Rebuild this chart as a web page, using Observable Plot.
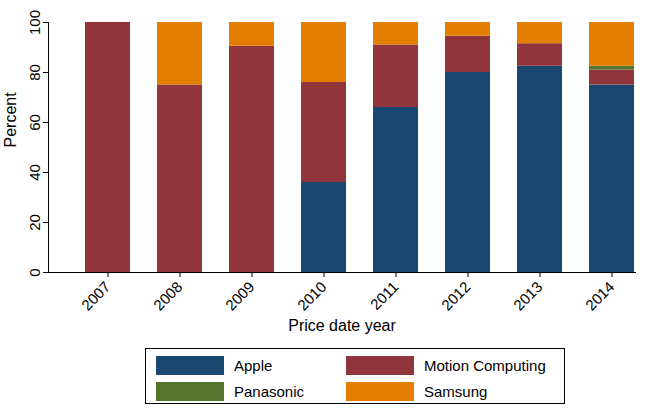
<!DOCTYPE html>
<html><head>
<script src="https://cdn.jsdelivr.net/npm/d3@7"></script>
<script src="https://cdn.jsdelivr.net/npm/@observablehq/plot@0.6"></script>
<style>
body{margin:0;background:#fff;font-family:"Liberation Sans",Arial,sans-serif;}
#legend{position:absolute;left:145px;top:348px;width:420px;height:56px;border:1px solid #000;box-sizing:border-box;display:grid;grid-template-columns:190px 220px;padding:5px 0 0 10px;row-gap:4px;font-size:15px;}
.it{display:flex;align-items:center;gap:10px;}
.sw{width:68px;height:19px;display:inline-block;}
</style></head>
<body>
<div id="chart"></div>
<div id="legend"></div>
<script>
const years = ["2007","2008","2009","2010","2011","2012","2013","2014"];
const series = ["Apple","Motion Computing","Panasonic","Samsung"];
const colors = ["#1a476f","#90353b","#55752f","#e37e00"];
const apple = [0,0,0,36,66,80,82.5,75];
const motion = [100,75,90.5,40,25,14.5,9,6];
const panasonic = [0,0,0,0,0,0,0,1.5];
const samsung = [0,25,9.5,24,9,5.5,8.5,17.5];
const vals = [apple, motion, panasonic, samsung];
const data = [];
series.forEach((s,i)=>years.forEach((y,j)=>data.push({year:y, series:s, value:vals[i][j]})));
const plot = Plot.plot({
  width:653, height:345, marginLeft:48, marginRight:18, marginTop:22, marginBottom:73,
  style:{fontSize:"14px", fontFamily:"Liberation Sans, Arial, sans-serif", background:"#fff"},
  x:{domain:years, paddingInner:0.38, paddingOuter:0, insetLeft:36, label:null},
  y:{domain:[0,100], label:null},
  color:{domain:series, range:colors},
  marks:[
    Plot.barY(data,{x:"year", y:"value", fill:"series", order:series}),
    Plot.axisY({ticks:[0,20,40,60,80,100], tickRotate:-90, tickSize:5, tickPadding:4, fontSize:15, label:null}),
    Plot.axisX({tickRotate:-45, tickSize:5, tickPadding:7, fontSize:15, label:null}),
    Plot.frame({anchor:"left"}),
    Plot.frame({anchor:"bottom"}),
    Plot.text(["Price date year"],{frameAnchor:"bottom", dy:58, fontSize:16}),
    Plot.text(["Percent"],{frameAnchor:"left", dx:-38, rotate:-90, fontSize:16})
  ]
});
document.getElementById("chart").appendChild(plot);
document.getElementById("legend").innerHTML = series.map((s,i)=>`<div class="it"><span class="sw" style="background:${colors[i]}"></span>${s}</div>`).join("");
</script>
</body></html>
